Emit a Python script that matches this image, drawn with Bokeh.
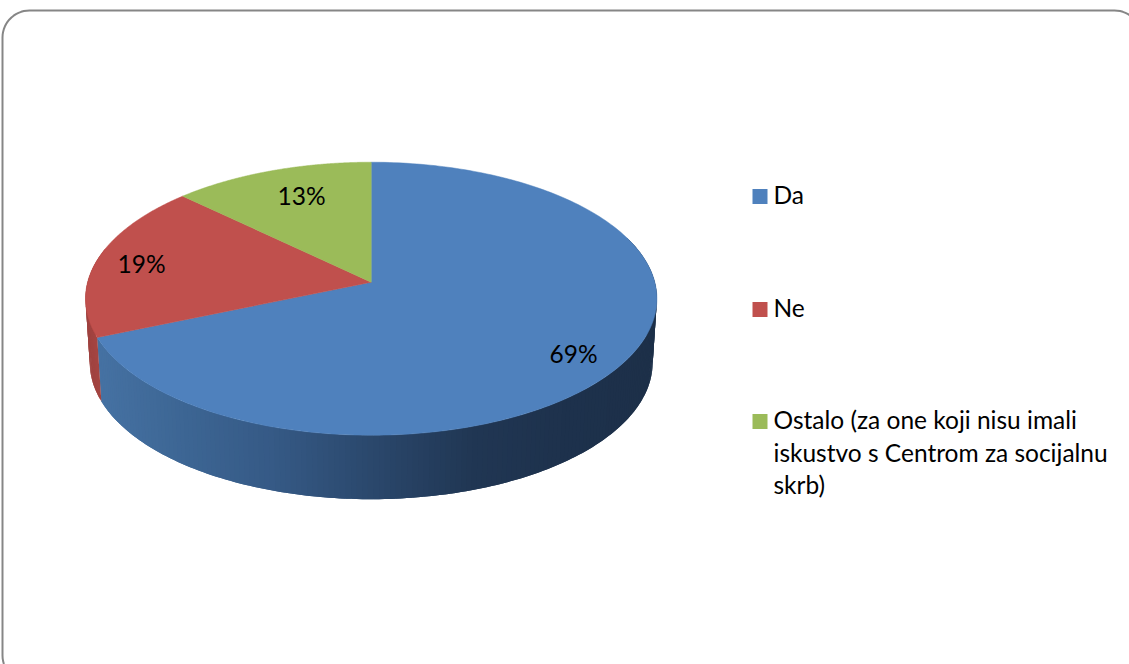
import numpy as np
from bokeh.plotting import figure
from bokeh.embed import file_html
from bokeh.resources import INLINE
from bokeh.core.properties import value

# ---- data ----
categories = ["Da", "Ne", "Ostalo (za one koji nisu imali\niskustvo s Centrom za socijalnu\nskrb)"]
shares = [68.6, 18.6, 12.8]
colors = ["#4F81BD", "#C0504D", "#9BBB59"]

# ---- layout (page pixels) ----
W, H = 1129, 664
CX, CY = 370.7, 281.7      # apex of the pie
A, B, K = 283.6, 134.5, 0.121   # perspective projection of the unit circle
DEPTH, BOTTOM_SCALE = 64, 0.985
FONT = value("Lato")
FONT_SIZE = "24.5px"
LABEL_X = [573, 141, 301]
LABEL_Y = [353, 263, 195]
LEGEND_Y = [194, 307, 419]
LEGEND_PITCH = 32.5


def project(t, r=1.0, xs=1.0, dy=0.0):
    u, v = r * np.sin(t), r * np.cos(t)
    w = 1 + K * v
    return CX + xs * A * u / w, CY + dy - B * v / w


p = figure(width=W, height=H, output_backend="svg", toolbar_location=None,
           x_range=(0, W), y_range=(H, 0), min_border=0,
           x_axis_location=None, y_axis_location=None, outline_line_color=None,
           background_fill_color="white", border_fill_color="white")
p.grid.visible = False
p.styles = {"position": "absolute", "left": "0px", "top": "0px"}

# ---- rounded frame ----
L, T, R, Bt, rad = 2, 10, 1141, 682, 27
arc = np.linspace(0, np.pi / 2, 16)
fx = np.concatenate([L + rad - rad * np.cos(arc), R - rad + rad * np.sin(arc),
                     R - rad + rad * np.cos(arc), L + rad - rad * np.sin(arc), [L]])
fy = np.concatenate([T + rad - rad * np.sin(arc), T + rad - rad * np.cos(arc),
                     Bt - rad + rad * np.sin(arc), Bt - rad + rad * np.cos(arc), [T + rad]])
p.line(fx, fy, line_color="#868686", line_width=2)

# ---- wedge angles from the data ----
edges = np.concatenate([[0], np.cumsum(shares)]) / sum(shares) * 2 * np.pi

# ---- side wall strips with a horizontal gradient ----
grad_x = [100, 190, 280, 370, 480, 570, 655]
blue_r = [0x46, 0x3D, 0x36, 0x2C, 0x21, 0x1E, 0x1D]
blue_g = [0x72, 0x66, 0x5A, 0x4A, 0x37, 0x32, 0x30]
blue_b = [0xA3, 0x94, 0x86, 0x6F, 0x54, 0x4D, 0x49]


def strip_color(x, idx):
    if idx == 1:
        f = np.interp(x, [85, 105], [0.82, 0.88])
        return "#%02x%02x%02x" % (int(0xC0 * f), int(0x50 * f), int(0x4D * f))
    return "#%02x%02x%02x" % (int(np.interp(x, grad_x, blue_r)),
                              int(np.interp(x, grad_x, blue_g)),
                              int(np.interp(x, grad_x, blue_b)))


xs_strip, ys_strip, cs_strip = [], [], []
side_ranges = [(1, edges[1], np.radians(285)), (0, np.radians(70), edges[1])]
for idx, a0, a1 in side_ranges:
    n = max(4, int((a1 - a0) / np.radians(1.0)))
    ts = np.linspace(a0, a1, n + 1)
    step = ts[1] - ts[0]
    for t0, t1 in zip(ts[:-1], ts[1:]):
        # each strip is overlapped by the next, so no seams show between them
        t_end = min(t1 + step, a1)
        x0, y0 = project(t0)
        x1, y1 = project((t0 + t_end) / 2)
        x1b, y1b = project(t_end)
        x2, y2 = project(t_end, xs=BOTTOM_SCALE, dy=DEPTH)
        x2b, y2b = project((t0 + t_end) / 2, xs=BOTTOM_SCALE, dy=DEPTH)
        x3, y3 = project(t0, xs=BOTTOM_SCALE, dy=DEPTH)
        xs_strip.append([x0, x1, x1b, x2, x2b, x3])
        ys_strip.append([y0, y1, y1b, y2, y2b, y3])
        cs_strip.append(strip_color(x0, idx))
# draw from the far end back so that later strips lie over the overlap of earlier ones
xs_strip, ys_strip, cs_strip = xs_strip[::-1], ys_strip[::-1], cs_strip[::-1]
p.patches(xs_strip, ys_strip, fill_color=cs_strip, line_color=None)

# ---- top wedges ----
wx, wy = [], []
for a0, a1 in zip(edges[:-1], edges[1:]):
    ts = np.linspace(a0, a1, 240)
    x, y = project(ts)
    wx.append([CX] + list(x))
    wy.append([CY] + list(y))
p.patches(wx, wy, fill_color=colors, line_color=colors, line_width=0.5)

# ---- data labels ----
p.text(LABEL_X, LABEL_Y, text=[f"{round(s)}%" for s in shares], text_color="black",
       text_font=FONT, text_font_size=FONT_SIZE, text_align="center", text_baseline="middle")

# ---- legend ----
p.scatter([759.5] * 3, [y + 2 for y in LEGEND_Y], marker="square", size=15, fill_color=colors, line_color=None)
tx, ty, tt = [], [], []
for name, y0 in zip(categories, LEGEND_Y):
    for i, line in enumerate(name.split("\n")):
        tx.append(773)
        ty.append(y0 + i * LEGEND_PITCH)
        tt.append(line)
p.text(tx, ty, text=tt, text_color="black", text_font=FONT, text_font_size=FONT_SIZE,
       text_align="left", text_baseline="middle")

open("out.html", "w").write(file_html(p, INLINE))
